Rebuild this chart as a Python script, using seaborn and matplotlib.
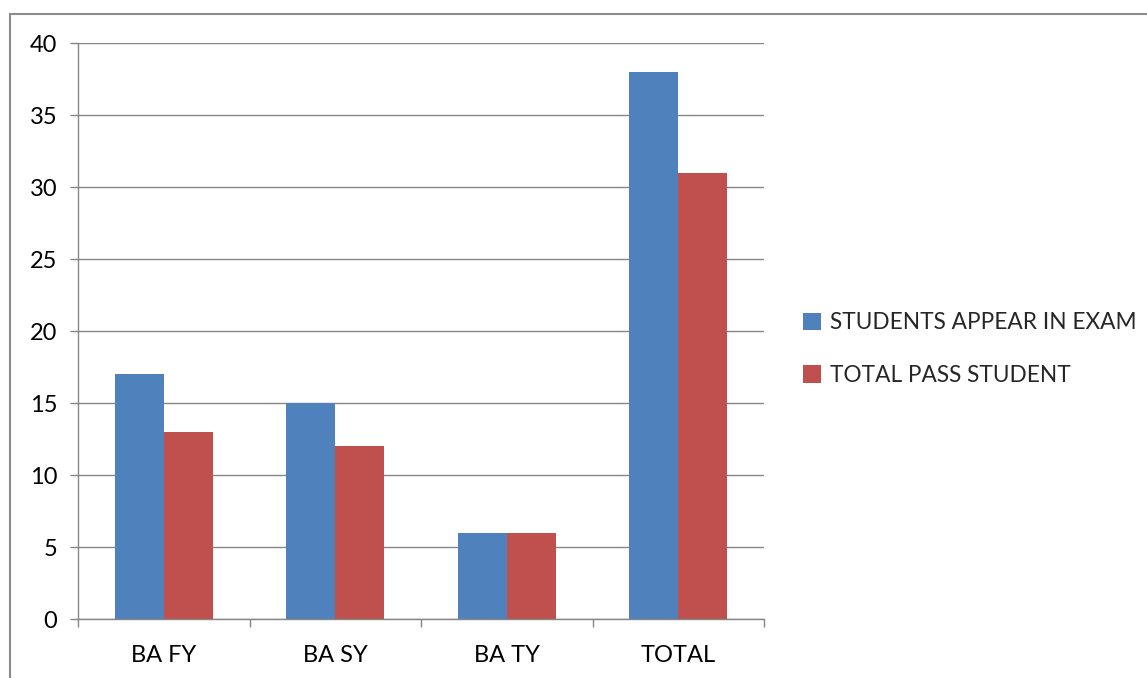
import matplotlib
matplotlib.use("Agg")
import matplotlib.pyplot as plt
import matplotlib.patches as mpatches
from matplotlib.ticker import FixedLocator, MultipleLocator
import seaborn as sns
import pandas as pd

categories = ["BA FY", "BA SY", "BA TY", "TOTAL"]
appeared = [17, 15, 6, 38]
passed = [13, 12, 6, 31]
series_names = ["STUDENTS APPEAR IN EXAM", "TOTAL PASS STUDENT"]
colors = ["#4F81BD", "#C0504D"]

df = pd.DataFrame({
    "class": categories * 2,
    "count": appeared + passed,
    "series": [series_names[0]] * len(categories) + [series_names[1]] * len(categories),
})

sns.set_theme(style="white")
plt.rcParams["font.family"] = ["Lato", "DejaVu Sans"]

fig = plt.figure(figsize=(11.47, 6.78), dpi=100)
ax = fig.add_axes([78 / 1147, 1 - 619 / 678, (764 - 78) / 1147, (619 - 43) / 678])

sns.barplot(data=df, x="class", y="count", hue="series", palette=colors,
            width=0.571, gap=0, saturation=1, linewidth=0, ax=ax, legend=False)

grid_c = "#868686"
ax.set_xlim(-0.5, 3.5)
ax.set_ylim(0, 40)
ax.yaxis.set_major_locator(MultipleLocator(5))
ax.grid(axis="y", color=grid_c, linewidth=1.0)
ax.set_axisbelow(True)
for s in ["top", "right"]:
    ax.spines[s].set_visible(False)
for s in ["left", "bottom"]:
    ax.spines[s].set_color(grid_c)
    ax.spines[s].set_linewidth(1.0)

ax.set_xlabel("")
ax.set_ylabel("")
ax.xaxis.set_minor_locator(FixedLocator([-0.5, 0.5, 1.5, 2.5, 3.5]))
ax.tick_params(axis="x", which="major", length=0, pad=18.5, labelsize=17, labelcolor="black")
ax.tick_params(axis="x", which="minor", length=6, width=1, color=grid_c, direction="out", bottom=True)
ax.tick_params(axis="y", which="major", length=6, width=1, color=grid_c, direction="out",
               left=True, pad=9, labelsize=17, labelcolor="black")

handles = [mpatches.Patch(color=c, linewidth=0) for c in colors]
ax.legend(handles, series_names, loc="center left", bbox_to_anchor=(803 / 1147, 1 - 349 / 678),
          bbox_transform=fig.transFigure, frameon=False, fontsize=16.3,
          handlelength=0.8, handleheight=0.8, handletextpad=0.4, labelspacing=1.4,
          borderaxespad=0, borderpad=0)

# outer chart-area border
fig.patches.append(mpatches.Rectangle((9.5 / 1147, -0.1), 1.2, 1 - 13.5 / 678 + 0.1,
                                      transform=fig.transFigure, fill=False,
                                      edgecolor="#8c8c8c", linewidth=1.5))

fig.savefig("out.png", dpi=100)
